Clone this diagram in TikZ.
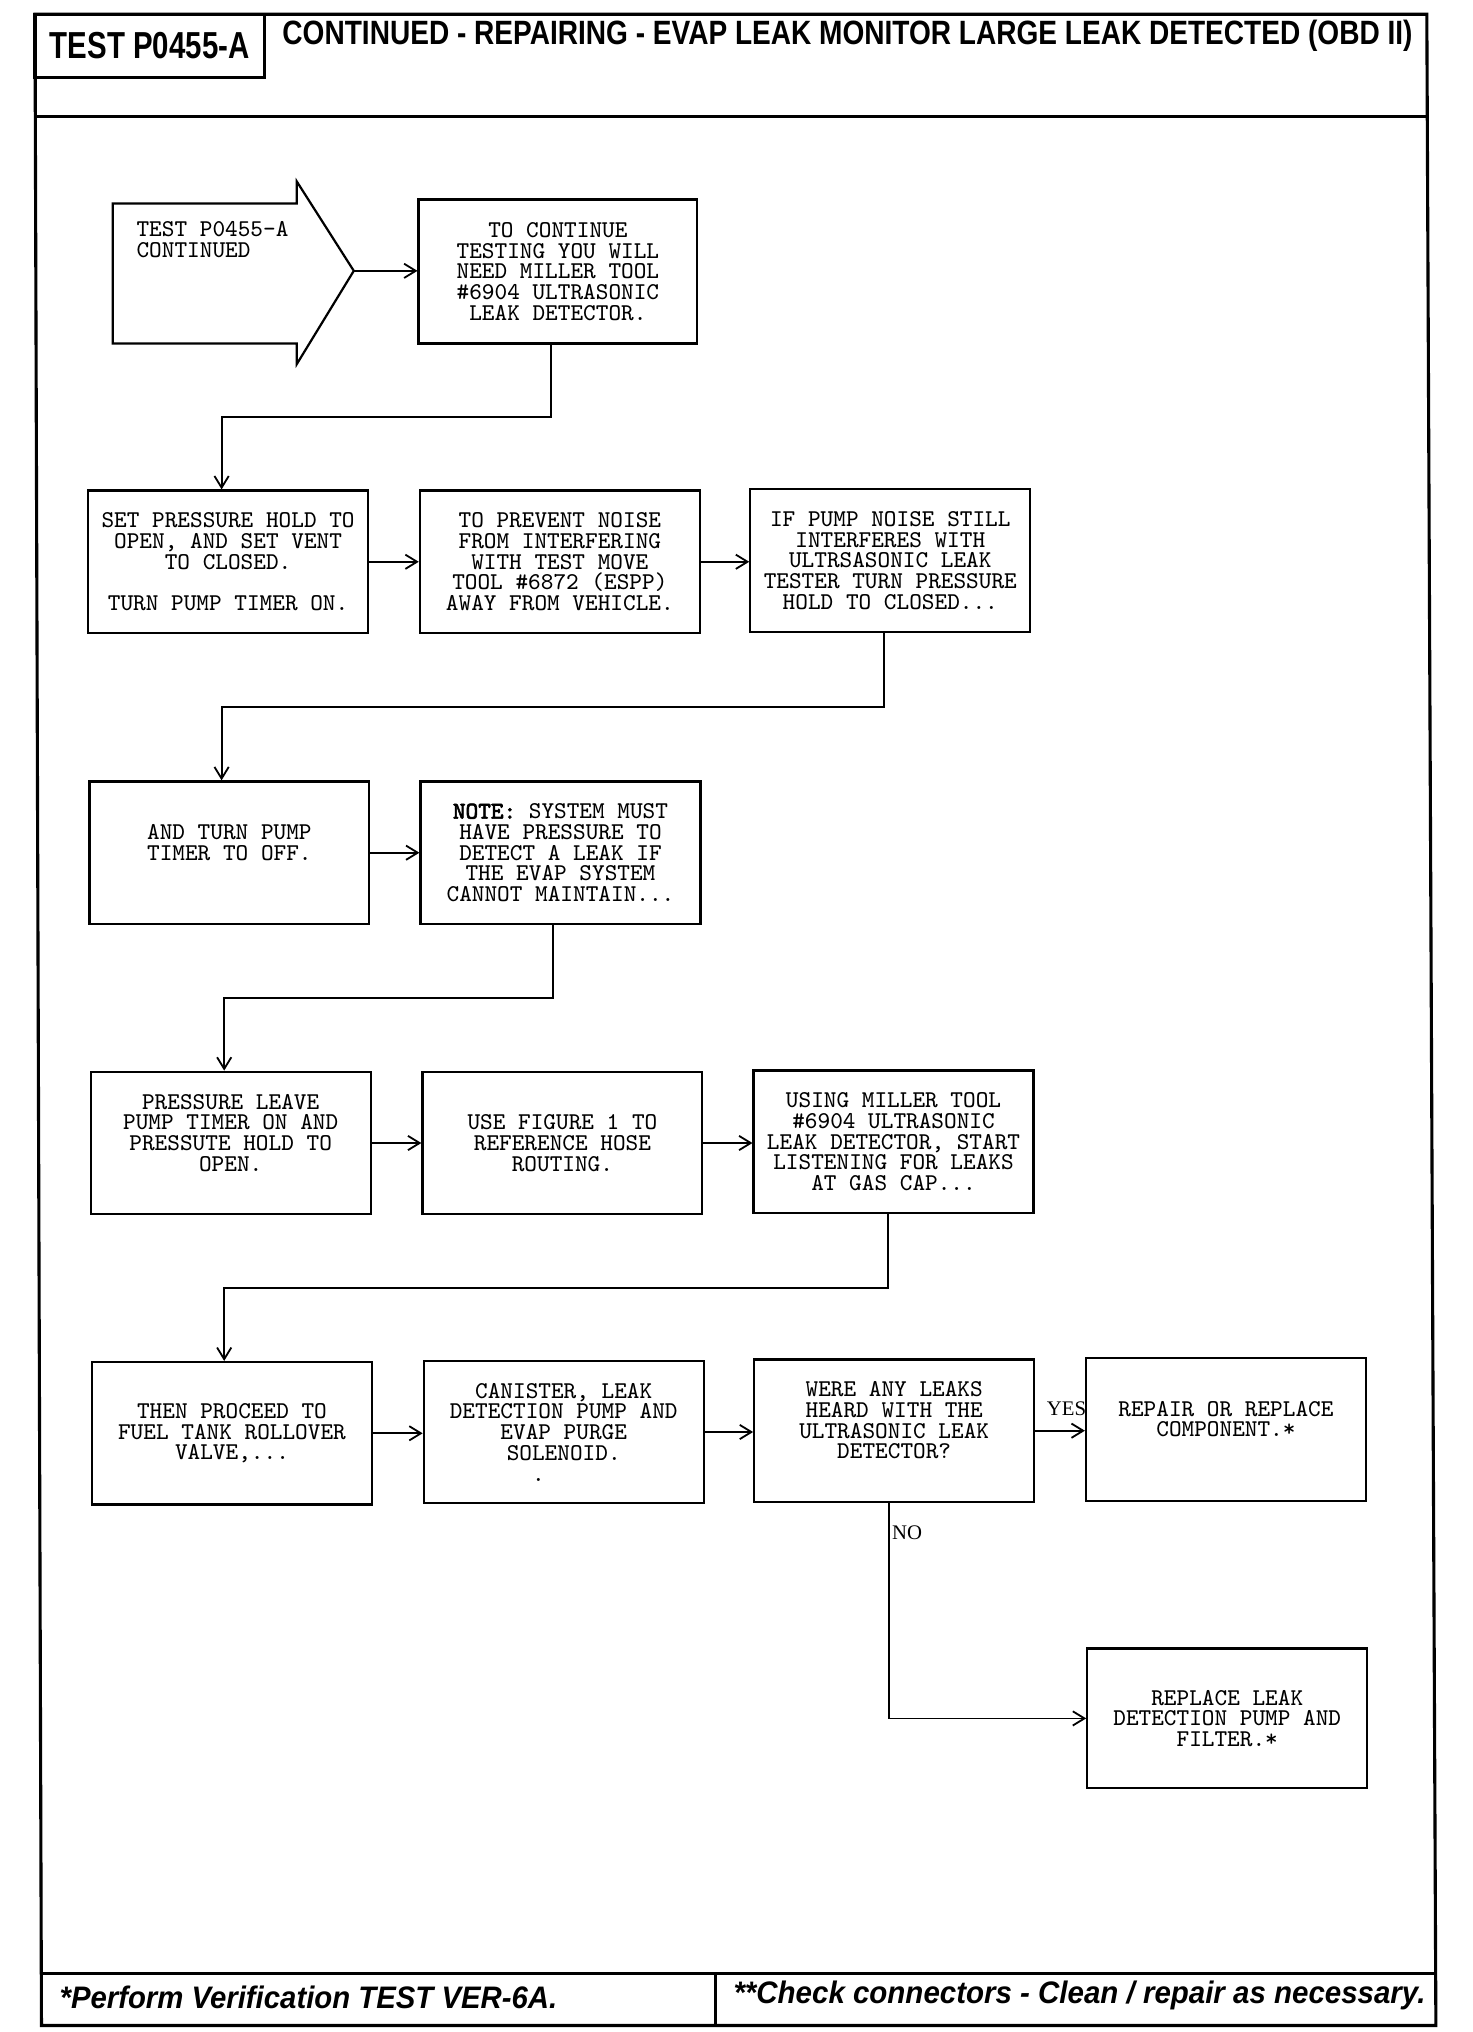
\documentclass[tikz,border=0pt]{standalone}
\usepackage{fontspec}
\usepackage{graphicx}
\usetikzlibrary{arrows.meta,calc}
\newfontfamily\hdfont{Liberation Sans}
\newfontfamily\tmsfont{Liberation Serif}
\newfontfamily\ttboldfont[FakeBold=2.5]{Latin Modern Mono}
\newcommand\bxfont{\ttfamily\fontsize{9.3}{8}\selectfont}
\newcommand\lblfont{\tmsfont\fontsize{8}{8}\selectfont}
\tikzset{
  stepbox/.style={draw, line width=0.85pt, minimum width=108pt, minimum height=55pt,
    inner sep=0pt, align=center, font=\bxfont},
  conn/.style={line width=0.7pt, -{Straight Barb[length=4.5pt,width=5.5pt]}},
  frameline/.style={line width=1.2pt},
}
\begin{document}
\begin{tikzpicture}[x=0.5pt,y=-0.5pt]
\fill[white] (0,0) rectangle (1136,1568);
\path[use as bounding box] (0,0) rectangle (1136,1568);

% frame
\draw[frameline] (27,11) -- (1101,11) -- (1108,1563) -- (32,1563) -- cycle;
\draw[frameline] (27.3,90) -- (1101.4,90);
\draw[frameline] (31.9,1523) -- (1107.8,1523);
\draw[frameline] (552,1523) -- (552,1563);

% header
\node[draw, line width=1.2pt, minimum width=88.5pt, minimum height=24.5pt, inner sep=0pt] (testbox) at (115.5,35.5)
  {\resizebox{77pt}{\height}{\hdfont\bfseries\fontsize{14.5}{14.5}\selectfont TEST P0455-A}};
\node[inner sep=0pt] (title) at (654,28)
  {\resizebox{436pt}{\height}{\hdfont\bfseries\fontsize{13}{13}\selectfont CONTINUED - REPAIRING - EVAP LEAK MONITOR LARGE LEAK DETECTED (OBD II)}};

% footer
\node[inner sep=0pt] (foot1) at (238,1541)
  {\resizebox{192pt}{\height}{\hdfont\bfseries\itshape\fontsize{12}{12}\selectfont *Perform Verification TEST VER-6A.}};
\node[inner sep=0pt] (foot2) at (833,1540)
  {\resizebox{267pt}{\height}{\hdfont\bfseries\itshape\fontsize{12}{12}\selectfont **Check connectors - Clean / repair as necessary.}};

% start arrow
\draw[line width=0.85pt] (87,157) -- (229,157) -- (229,140) -- (273,209) -- (229,281) -- (229,265) -- (87,265) -- cycle;
\coordinate (tip) at (273,209);
\node[anchor=west, align=left, font=\bxfont, inner sep=0pt] (start) at (105,185) {TEST P0455-A\\CONTINUED};

% boxes
\node[stepbox, minimum width=107.5pt, minimum height=55.5pt] (a1) at (430.5,209.5)
  {TO CONTINUE\\TESTING YOU WILL\\NEED MILLER TOOL\\\#6904 ULTRASONIC\\LEAK DETECTOR.};

\node[stepbox] (b1) at (176,433.5)
  {SET PRESSURE HOLD TO\\OPEN, AND SET VENT\\TO CLOSED.\\\mbox{}\\TURN PUMP TIMER ON.};
\node[stepbox] (b2) at (432,433.5)
  {TO PREVENT NOISE\\FROM INTERFERING\\WITH TEST MOVE\\TOOL \#6872 (ESPP)\\AWAY FROM VEHICLE.};
\node[stepbox] (b3) at (687,432.5)
  {IF PUMP NOISE STILL\\INTERFERES WITH\\ULTRSASONIC LEAK\\TESTER TURN PRESSURE\\HOLD TO CLOSED...};

\node[stepbox] (c1) at (177,658)
  {AND TURN PUMP\\TIMER TO OFF.\\\mbox{}};
\node[stepbox] (c2) at (432.5,658)
  {{\ttboldfont NOTE:} SYSTEM MUST\\HAVE PRESSURE TO\\DETECT A LEAK IF\\THE EVAP SYSTEM\\CANNOT MAINTAIN...};

\node[stepbox] (d1) at (178,882)
  {PRESSURE LEAVE\\PUMP TIMER ON AND\\PRESSUTE HOLD TO\\OPEN.\\\mbox{}};
\node[stepbox] (d2) at (434,882)
  {USE FIGURE 1 TO\\REFERENCE HOSE\\ROUTING.};
\node[stepbox] (d3) at (689.5,881)
  {USING MILLER TOOL\\\#6904 ULTRASONIC\\LEAK DETECTOR, START\\LISTENING FOR LEAKS\\AT GAS CAP...};

\node[stepbox] (e1) at (179,1106)
  {THEN PROCEED TO\\FUEL TANK ROLLOVER\\VALVE,...};
\node[stepbox] (e2) at (435,1105)
  {CANISTER, LEAK\\DETECTION PUMP AND\\EVAP PURGE\\SOLENOID.\\.\phantom{xxxx}};
\node[stepbox] (e3) at (690,1104)
  {WERE ANY LEAKS\\HEARD WITH THE\\ULTRASONIC LEAK\\DETECTOR?\\\mbox{}};
\node[stepbox] (e4) at (946,1103)
  {REPAIR OR REPLACE\\COMPONENT.*\\\mbox{}};
\node[stepbox, minimum height=54pt] (f1) at (947,1326)
  {REPLACE LEAK\\DETECTION PUMP AND\\FILTER.*};

% connectors
\draw[conn] (tip) -- (tip -| a1.west);
\draw[conn] ($(a1.south)+(-5.5,0)$) -- ++(0,56) -| ($(b1.north)+(-5,0)$);
\draw[conn] (b1.east) -- (b1.east -| b2.west);
\draw[conn] (b2.east) -- (b2.east -| b3.west);
\draw[conn] ($(b3.south)+(-5,0)$) -- ++(0,57) -| ($(c1.north)+(-6,0)$);
\draw[conn] (c1.east) -- (c1.east -| c2.west);
\draw[conn] ($(c2.south)+(-5.5,0)$) -- ++(0,56) -| ($(d1.north)+(-5,0)$);
\draw[conn] (d1.east) -- (d1.east -| d2.west);
\draw[conn] (d2.east) -- (d2.east -| d3.west);
\draw[conn] ($(d3.south)+(-4.5,0)$) -- ++(0,57) -| ($(e1.north)+(-6,0)$);
\draw[conn] (e1.east) -- (e1.east -| e2.west);
\draw[conn] (e2.east) -- (e2.east -| e3.west);
\draw[conn] (e3.east) -- (e3.east -| e4.west);
\draw[conn] ($(e3.south)+(-4,0)$) |- (f1.west);

% labels
\node[font=\lblfont, inner sep=0pt] (yes) at (823,1087) {YES};
\node[font=\lblfont, inner sep=0pt] (no) at (700,1183) {NO};
\end{tikzpicture}
\end{document}
